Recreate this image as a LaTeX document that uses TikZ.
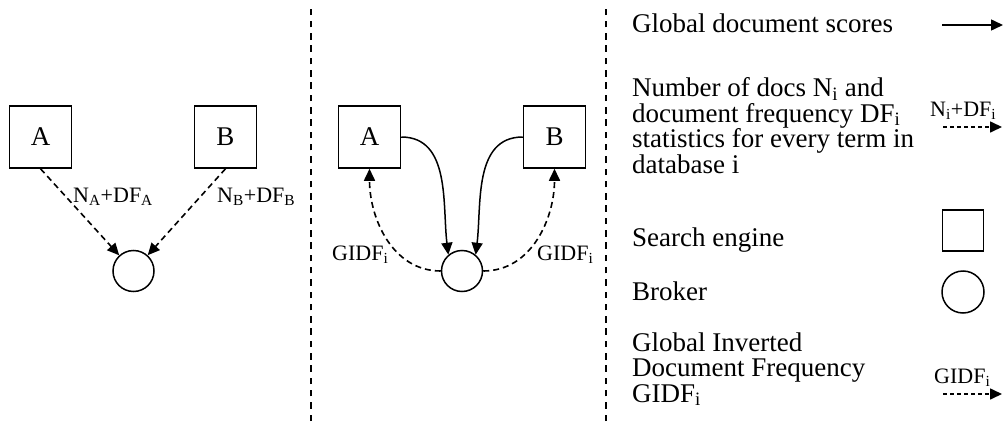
\documentclass[tikz,border=0pt]{standalone}
\usepackage{fontspec}
\setmainfont{Liberation Serif}
\usetikzlibrary{arrows.meta}

\begin{document}
\begin{tikzpicture}[x=1pt,y=1pt,
    engine/.style ={rectangle, draw, line width=1.5pt, minimum size=62pt, inner sep=0pt,
      font=\fontsize{27}{26}\selectfont},
    broker/.style ={circle, draw, line width=1.5pt, minimum size=41pt, inner sep=0pt},
    scores/.style ={line width=1.5pt, -{Triangle[length=12pt,width=11pt]}},
    stats/.style ={line width=1.6pt, dash pattern=on 6pt off 4pt, -{Triangle[length=12pt,width=11pt]}},
    divider/.style ={line width=2.5pt, dash pattern=on 6.5pt off 5.8pt},
    lbl/.style ={inner sep=0pt, anchor=base west, font=\fontsize{22}{22}\selectfont},
    legend/.style ={inner sep=0pt, anchor=base west, align=left, font=\fontsize{27}{25.5}\selectfont}]
   \useasboundingbox (0,0) rectangle (1003,424);

   % left: statistics to the broker
   \node[engine] (A1) at (40.5,287) {A};
   \node[engine] (B1) at (225.5,287) {B};
   \node[broker] (C1) at (133.5,153) {};
   \node[lbl] (nA) at (73,222) {N\textsubscript{A}+DF\textsubscript{A}};
   \node[lbl] (nB) at (217,222) {N\textsubscript{B}+DF\textsubscript{B}};

   \draw[stats] (A1.south) to (C1);
   \draw[stats] (B1.south) to (C1);

   % middle: GIDF back, scores up
   \node[engine] (A2) at (369.5,287) {A};
   \node[engine] (B2) at (554.5,287) {B};
   \node[broker] (C2) at (462,153) {};
   \node[lbl] (gA) at (332,164) {GIDF\textsubscript{i}};
   \node[lbl] (gB) at (537,164) {GIDF\textsubscript{i}};

   \draw[scores] (A2.east) to[out=0,in=97] (C2.130);
   \draw[scores] (B2.west) to[out=180,in=83] (C2.50);
   \draw[stats] (C2.west) to[out=180,in=-90] (A2.south);
   \draw[stats] (C2.east) to[out=0,in=-90] (B2.south);

   \draw[divider] (311,3) -- (311,421);
   \draw[divider] (606,3) -- (606,421);

   % legend (base = last line)
   \node[legend] (t1) at (632,391) {Global document scores};
   \node[legend] (t2) at (632,251) {Number of docs N\textsubscript{i} and\\document frequency DF\textsubscript{i}\\statistics for every term in\\database i};
   \node[legend] (t3) at (632,178) {Search engine};
   \node[legend] (t4) at (632,124) {Broker};
   \node[legend] (t5) at (632,22) {Global Inverted\\Document Frequency\\GIDF\textsubscript{i}};

   \coordinate (s0) at (942,399);
   \coordinate (s1) at (1003,399);
   \draw[scores] (s0) to (s1);

   \node[lbl] (nI) at (930,308) {N\textsubscript{i}+DF\textsubscript{i}};
   \coordinate (d0) at (943,297);
   \coordinate (d1) at (1002,297);
   \draw[stats, dash pattern=on 4pt off 3pt] (d0) to (d1);

   \node[rectangle, draw, line width=1.5pt, minimum size=41pt] (se) at (963,193.5) {};
   \node[broker, minimum size=42pt] (br) at (963,132) {};

   \node[lbl] (gI) at (934,41) {GIDF\textsubscript{i}};
   \coordinate (g0) at (943,30);
   \coordinate (g1) at (1002,30);
   \draw[stats, dash pattern=on 4pt off 3pt] (g0) to (g1);
 \end{tikzpicture}
\end{document}
